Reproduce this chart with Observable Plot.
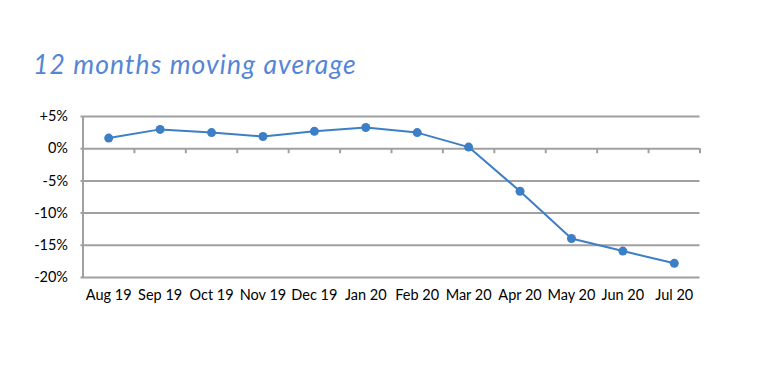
<!DOCTYPE html>
<html><head><meta charset="utf-8">
<script src="https://cdn.jsdelivr.net/npm/d3@7"></script>
<script src="https://cdn.jsdelivr.net/npm/@observablehq/plot@0.6"></script>
<style>
body{margin:0;background:#fff;}
#title{position:absolute;left:33px;top:48px;font-family:Lato,sans-serif;font-style:italic;font-size:26.5px;letter-spacing:1.1px;color:#5585d6;white-space:nowrap;}
#chart{position:absolute;left:0;top:100px;}
</style></head>
<body>
<div id="title">12 months moving average</div>
<div id="chart"></div>
<script>
const months = ["Aug 19","Sep 19","Oct 19","Nov 19","Dec 19","Jan 20","Feb 20","Mar 20","Apr 20","May 20","Jun 20","Jul 20"];
const values = [1.65, 3.0, 2.5, 1.9, 2.7, 3.3, 2.5, 0.25, -6.6, -13.95, -15.9, -17.8];
const yTicks = [5, 0, -5, -10, -15, -20];
const yLabels = ["+5%","0%","-5%","-10%","-15%","-20%"];

const data = months.map((m, i) => ({pos: i + 0.5, month: m, value: values[i]}));
const boundaries = d3.range(1, months.length + 1);
const gray = "#a0a0a0";
const blue = "#3d7fc6";

const plot = Plot.plot({
  width: 760,
  height: 230,
  marginTop: 16,
  marginBottom: 53,
  marginLeft: 82.5,
  marginRight: 60.5,
  x: {domain: [0, months.length]},
  y: {domain: [-20, 5]},
  style: {fontFamily: "Lato, sans-serif", fontSize: "14.5px", color: "#000"},
  marks: [
    Plot.ruleY(yTicks, {stroke: gray, strokeWidth: 2, insetLeft: -2}),
    Plot.ruleX(boundaries, {y1: 0, y2: 0, insetBottom: -5, stroke: gray, strokeWidth: 2}),
    Plot.ruleX([0], {stroke: gray, strokeWidth: 2}),
    Plot.axisY({ticks: yTicks, tickFormat: (d) => yLabels[yTicks.indexOf(d)], tickSize: 0, tickPadding: 15, label: null, fontSize: 14.5}),
    Plot.axisX({ticks: data.map(d => d.pos), tickFormat: (d) => months[Math.round(d - 0.5)], tickSize: 0, tickPadding: 12, label: null, fontSize: 14.5}),
    Plot.line(data, {x: "pos", y: "value", stroke: blue, strokeWidth: 2}),
    Plot.dot(data, {x: "pos", y: "value", fill: blue, r: 4.5})
  ]
});
document.getElementById("chart").appendChild(plot);
</script>
</body></html>
